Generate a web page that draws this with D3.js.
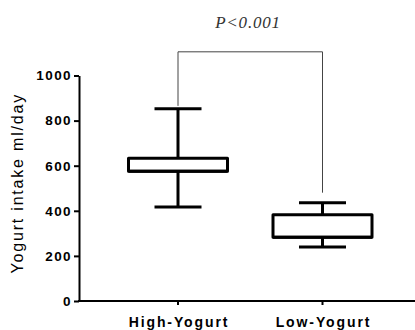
<!DOCTYPE html>
<html>
<head>
<meta charset="utf-8">
<script src="https://cdn.jsdelivr.net/npm/d3@7"></script>
<style>
  body { margin: 0; background: #fff; }
  svg { display: block; }
  .tick text { font-family: "Liberation Sans", Arial, sans-serif; }
</style>
</head>
<body>
<svg id="chart" width="415" height="330"></svg>
<script>
// data
const groups = ["High-Yogurt", "Low-Yogurt"];
const whiskerLow = [417, 240];
const q1 = [575, 283];
const median = [575, 283];
const q3 = [633, 383];
const whiskerHigh = [852, 436];
const yTicks = [0, 200, 400, 600, 800, 1000];
const pLabel = "P<0.001";
const bracketValue = 1105;

const svg = d3.select("#chart");

// plot frame
const plotLeft = 79, plotBottom = 301, plotTop = 75.5, plotRight = 415;

const x = d3.scalePoint().domain(groups).range([178, 322.5]);
const y = d3.scaleLinear().domain([0, 1000]).range([plotBottom, plotTop]);

// y axis
const yAxis = svg.append("g")
    .attr("transform", `translate(${plotLeft},0)`)
    .call(d3.axisLeft(y).tickValues(yTicks).tickFormat(d3.format("d"))
      .tickSize(5).tickSizeOuter(0).tickPadding(2));
yAxis.select(".domain").attr("stroke", "#000").attr("stroke-width", 2);
yAxis.selectAll(".tick line").attr("stroke", "#000").attr("stroke-width", 2);
yAxis.selectAll(".tick text")
    .attr("font-size", 13.5)
    .attr("font-weight", "bold")
    .attr("letter-spacing", 1.4)
    .attr("fill", "#000");

// x axis
svg.append("line")
    .attr("x1", plotLeft - 1).attr("x2", plotRight)
    .attr("y1", plotBottom).attr("y2", plotBottom)
    .attr("stroke", "#000").attr("stroke-width", 2);

svg.selectAll(".xtick")
    .data(groups)
    .enter().append("line")
    .attr("x1", d => x(d)).attr("x2", d => x(d))
    .attr("y1", plotBottom).attr("y2", plotBottom + 4)
    .attr("stroke", "#000").attr("stroke-width", 2);

svg.selectAll(".xlabel")
    .data(groups)
    .enter().append("text")
    .attr("x", d => x(d) + 1)
    .attr("y", plotBottom + 26)
    .attr("text-anchor", "middle")
    .attr("font-family", "Liberation Sans, Arial, sans-serif")
    .attr("font-size", 14)
    .attr("font-weight", "bold")
    .attr("letter-spacing", 1.9)
    .text(d => d);

// y axis title
svg.append("text")
    .attr("transform", `translate(23,${(plotTop + plotBottom) / 2 - 5}) rotate(-90)`)
    .attr("text-anchor", "middle")
    .attr("font-family", "Liberation Sans, Arial, sans-serif")
    .attr("font-size", 16)
    .attr("letter-spacing", 1.8)
    .text("Yogurt intake ml/day");

// box plots
const boxW = 99, capW = 47;
const boxes = svg.selectAll(".box")
    .data(groups)
    .enter().append("g")
    .attr("class", "box");

// whiskers
boxes.append("line")
    .attr("x1", d => x(d)).attr("x2", d => x(d))
    .attr("y1", (d, i) => y(whiskerHigh[i]))
    .attr("y2", (d, i) => y(whiskerLow[i]))
    .attr("stroke", "#000").attr("stroke-width", 3);

[whiskerHigh, whiskerLow].forEach(arr => {
  boxes.append("line")
      .attr("x1", d => x(d) - capW / 2).attr("x2", d => x(d) + capW / 2)
      .attr("y1", (d, i) => y(arr[i])).attr("y2", (d, i) => y(arr[i]))
      .attr("stroke", "#000").attr("stroke-width", 3);
});

boxes.append("rect")
    .attr("x", d => x(d) - boxW / 2)
    .attr("width", boxW)
    .attr("y", (d, i) => y(q3[i]))
    .attr("height", (d, i) => y(q1[i]) - y(q3[i]))
    .attr("fill", "#fff")
    .attr("stroke", "#000").attr("stroke-width", 3)
    .attr("stroke-linejoin", "round");

// median sits on the box edge
boxes.append("line")
    .attr("x1", d => x(d) - boxW / 2).attr("x2", d => x(d) + boxW / 2)
    .attr("y1", (d, i) => y(median[i])).attr("y2", (d, i) => y(median[i]))
    .attr("stroke", "#000").attr("stroke-width", 3);

// significance bracket
const by = y(bracketValue);
svg.append("path")
    .attr("d", d3.line()([
      [x(groups[0]), y(whiskerHigh[0]) - 3],
      [x(groups[0]), by],
      [x(groups[1]), by],
      [x(groups[1]), y(whiskerHigh[1]) - 10]
    ]))
    .attr("fill", "none")
    .attr("stroke", "#444").attr("stroke-width", 1);

svg.append("text")
    .attr("x", 248)
    .attr("y", 28)
    .attr("text-anchor", "middle")
    .attr("font-family", "Liberation Serif, Times New Roman, serif")
    .attr("font-style", "italic")
    .attr("font-size", 17)
    .attr("letter-spacing", 0.8)
    .attr("fill", "#333")
    .text(pLabel);
</script>
</body>
</html>
